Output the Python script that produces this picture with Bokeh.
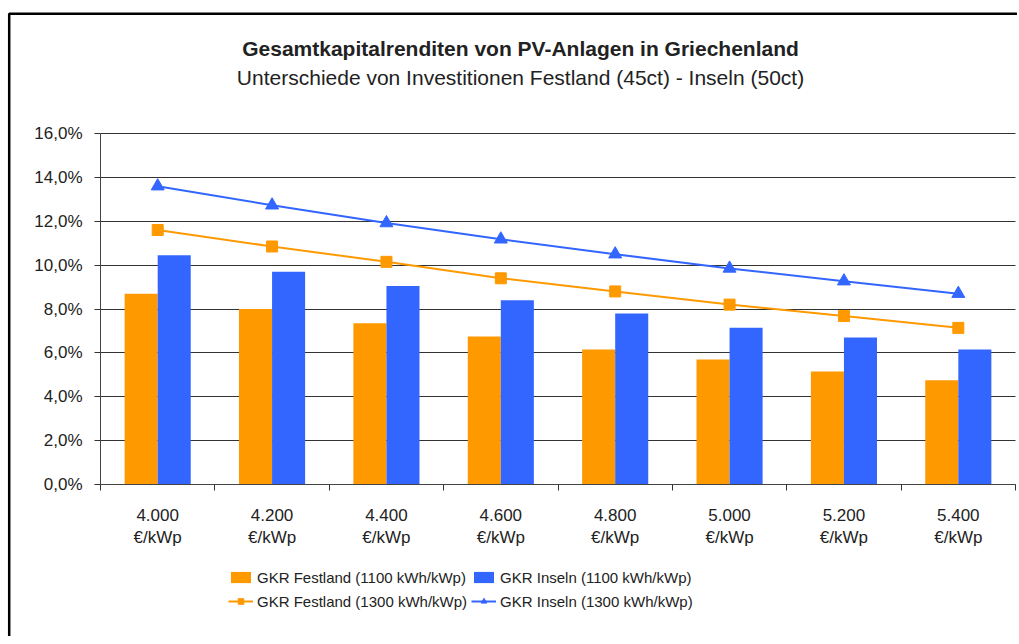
from bokeh.plotting import figure
from bokeh.models import (Range1d, FixedTicker, CustomJSTickFormatter, Legend, LegendItem,
                          Label, PolyAnnotation, ColumnDataSource)
from bokeh.transform import dodge
from bokeh.embed import file_html
from bokeh.resources import INLINE

# ---- data ----
categories = ["4.000", "4.200", "4.400", "4.600", "4.800", "5.000", "5.200", "5.400"]
unit = "€/kWp"
festland_1100 = [8.7, 8.0, 7.35, 6.75, 6.15, 5.7, 5.15, 4.75]
inseln_1100 = [10.45, 9.7, 9.05, 8.4, 7.8, 7.15, 6.7, 6.15]
festland_1300 = [11.6, 10.85, 10.15, 9.4, 8.8, 8.2, 7.68, 7.14]
inseln_1300 = [13.6, 12.73, 11.92, 11.18, 10.5, 9.85, 9.27, 8.7]
y_ticks = [0, 2, 4, 6, 8, 10, 12, 14, 16]

title_text = "Gesamtkapitalrenditen von PV-Anlagen in Griechenland"
subtitle_text = "Unterschiede von Investitionen Festland (45ct) - Inseln (50ct)"
names = ["GKR Festland (1100 kWh/kWp)", "GKR Inseln (1100 kWh/kWp)",
         "GKR Festland (1300 kWh/kWp)", "GKR Inseln (1300 kWh/kWp)"]

ORANGE = "#FF9900"
BLUE = "#3366FF"
FONT = "Liberation Sans"
TXT = "#222222"

n = len(categories)
y_max = y_ticks[-1]
centers = [i + 0.5 for i in range(n)]
src = ColumnDataSource(dict(x=centers, f11=festland_1100, i11=inseln_1100,
                            f13=festland_1300, i13=inseln_1300))

# canvas layout (pixels): the frame fills the whole canvas, the plot area is a sub-rectangle
W, H = 1017, 636
PL, PR, PT, PB = 100, 1015, 133, 484
px_x = (PR - PL) / n
px_y = (PB - PT) / y_max

p = figure(width=W, height=H, output_backend="svg", toolbar_location=None,
           x_range=Range1d(-PL / px_x, n + (W - PR) / px_x),
           y_range=Range1d(-(H - PB) / px_y, y_max + PT / px_y),
           min_border=0)
p.title.visible = False
p.outline_line_color = None
p.background_fill_color = "white"
p.border_fill_color = "white"

bw = 0.289
r_f11 = p.vbar(x=dodge("x", -bw / 2, range=p.x_range), top="f11", width=bw, source=src,
               fill_color=ORANGE, line_color=None)
r_i11 = p.vbar(x=dodge("x", bw / 2, range=p.x_range), top="i11", width=bw, source=src,
               fill_color=BLUE, line_color=None)
l_f13 = p.line("x", "f13", source=src, line_color=ORANGE, line_width=2)
m_f13 = p.scatter("x", "f13", source=src, marker="square", size=11,
                  fill_color=ORANGE, line_color=ORANGE)
l_i13 = p.line("x", "i13", source=src, line_color=BLUE, line_width=2)
m_i13 = p.scatter("x", "i13", source=src, marker="triangle", size=13,
                  fill_color=BLUE, line_color=BLUE)

# y axis
ya = p.yaxis[0]
ya.fixed_location = 0
ya.bounds = (0, y_max)
ya.ticker = FixedTicker(ticks=y_ticks)
ya.formatter = CustomJSTickFormatter(code="return tick.toFixed(1).replace('.', ',') + '%';")
ya.major_tick_in = 0
ya.major_tick_out = 6
ya.minor_tick_line_color = None
ya.axis_line_color = "#444444"
ya.major_tick_line_color = "#333333"
ya.major_label_text_font = FONT
ya.major_label_text_font_size = "17px"
ya.major_label_text_color = TXT
ya.major_label_standoff = 12

# x axis
xa = p.xaxis[0]
xa.fixed_location = 0
xa.bounds = (0, n)
xa.ticker = FixedTicker(ticks=centers, minor_ticks=list(range(n + 1)))
xa.formatter = CustomJSTickFormatter(args=dict(cats=categories, unit=unit),
                                     code="return cats[Math.floor(tick)] + '\\n' + unit;")
xa.major_tick_line_color = None
xa.major_tick_in = 0
xa.minor_tick_in = 0
xa.minor_tick_out = 6
xa.minor_tick_line_color = "#333333"
xa.axis_line_color = "#444444"
xa.major_label_text_font = FONT
xa.major_label_text_font_size = "17px"
xa.major_label_text_color = TXT
xa.major_label_standoff = 15

p.xgrid.grid_line_color = None
yg = p.ygrid[0]
yg.ticker = FixedTicker(ticks=y_ticks)
yg.grid_line_color = "#333333"
yg.grid_line_width = 1
if "cross_bounds" in yg.properties():
    yg.cross_bounds = (0, n)
else:
    yg.grid_line_color = None
    p.segment(x0=[0] * len(y_ticks), x1=[n] * len(y_ticks), y0=y_ticks, y1=y_ticks,
              line_color="#333333", line_width=1, level="underlay")

# titles (pixel positions converted to data units)
p.add_layout(Label(x=(520 - PL) / px_x, y=(PB - 48) / px_y, text=title_text,
                   text_align="center", text_baseline="middle", text_font=FONT,
                   text_font_style="bold", text_font_size="21px", text_color=TXT))
p.add_layout(Label(x=(520 - PL) / px_x, y=(PB - 77) / px_y, text=subtitle_text,
                   text_align="center", text_baseline="middle", text_font=FONT,
                   text_font_size="21px", text_color=TXT))

# outer border (left and top edges only; the rest lies outside the canvas)
bx0 = (8.7 - PL) / px_x
by0 = (PB - 13.2) / px_y
bx1 = n + 40 / px_x + (W - PR) / px_x
by1 = -(H - PB + 40) / px_y
p.add_layout(PolyAnnotation(xs=[bx0, bx0, bx1, bx1], ys=[by1, by0, by0, by1],
                            fill_color=None, fill_alpha=0, line_color="black",
                            line_alpha=1, line_width=2.5))

legend = Legend(items=[
    LegendItem(label=names[0], renderers=[r_f11]),
    LegendItem(label=names[2], renderers=[l_f13, m_f13]),
    LegendItem(label=names[1], renderers=[r_i11]),
    LegendItem(label=names[3], renderers=[l_i13, m_i13]),
], location=(228, H - 611), ncols=2, orientation="vertical",
    padding=0, margin=0, spacing=4, glyph_width=25, glyph_height=14, label_height=20,
    label_standoff=4, label_text_font=FONT, label_text_font_size="15px",
    label_text_color=TXT, border_line_color=None, background_fill_alpha=0)
p.add_layout(legend, "center")

open("out.html", "w").write(file_html(p, INLINE))
